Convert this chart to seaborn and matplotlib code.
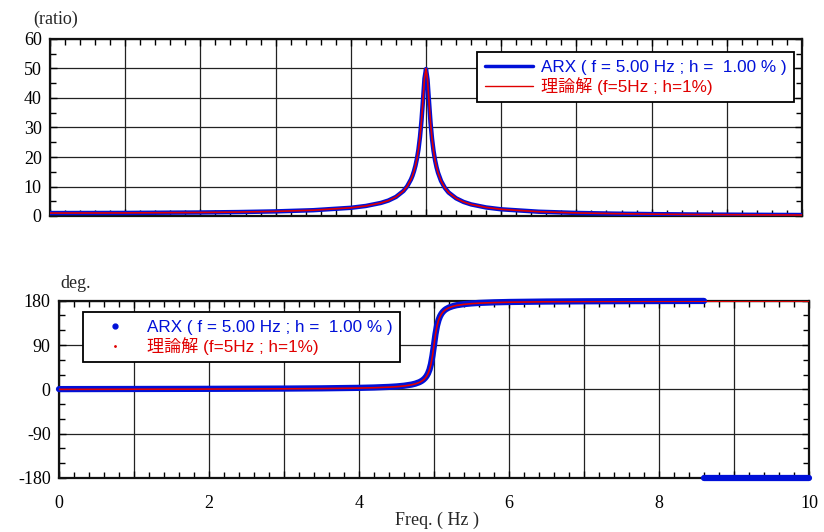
import matplotlib
matplotlib.use("Agg")
import matplotlib.pyplot as plt
from matplotlib.ticker import MultipleLocator, FuncFormatter
from matplotlib.lines import Line2D
import seaborn as sns
import pandas as pd

# ---------------- data ----------------
freq = [0.0, 1.0, 2.0, 2.5, 3.0, 3.5, 4.0, 4.2, 4.4, 4.5, 4.6, 4.7, 4.75,
        4.8, 4.82, 4.84, 4.86, 4.88, 4.9, 4.92, 4.94, 4.96, 4.98, 5.0,
        5.02, 5.04, 5.06, 5.08, 5.1, 5.12, 5.14, 5.16, 5.2, 5.25, 5.3,
        5.4, 5.5, 5.6, 5.8, 6.0, 6.5, 7.0, 7.5, 8.0, 8.6, 9.0, 10.0]

theory_amp = [1.0, 1.04, 1.19, 1.33, 1.56, 1.96, 2.78, 3.40, 4.43, 5.24, 6.46, 8.48, 10.07,
              12.39, 13.64, 15.18, 17.08, 19.50, 22.6, 26.8, 32.3, 39.3, 46.6, 50.0,
              46.3, 38.8, 31.7, 26.2, 22.1, 18.97, 16.56, 14.66, 11.88, 9.56, 7.97,
              6.0, 4.76, 3.93, 2.89, 2.27, 1.45, 1.04, 0.80, 0.64, 0.50, 0.45, 0.33]

arx_amp = [1.0, 1.04, 1.19, 1.33, 1.56, 1.96, 2.78, 3.40, 4.43, 5.24, 6.46, 8.48, 10.07,
           12.39, 13.64, 15.18, 17.08, 19.50, 22.6, 26.8, 32.3, 39.3, 46.6, 49.8,
           46.3, 38.8, 31.7, 26.2, 22.1, 18.97, 16.56, 14.66, 11.88, 9.56, 7.97,
           6.0, 4.76, 3.93, 2.89, 2.27, 1.45, 1.04, 0.80, 0.64, 0.50, 0.45, 0.33]

theory_phase = [0.0, 0.24, 0.55, 0.8, 1.07, 1.57, 2.55, 3.27, 4.46, 5.4, 6.83, 9.17, 11.03,
                13.76, 15.25, 17.09, 19.4, 22.38, 26.33, 31.8, 39.6, 51.2, 68.2, 90.0,
                111.8, 128.6, 140.0, 147.8, 153.2, 157.1, 160.1, 162.4, 165.7, 168.4, 170.3,
                172.6, 174.0, 175.0, 176.2, 176.9, 177.8, 178.3, 178.6, 178.8, 179.0, 179.1, 179.2]

arx_phase_freq = freq[:45]
arx_phase = [0.5, 0.74, 1.05, 1.3, 1.57, 2.07, 3.05, 3.77, 4.96, 5.9, 7.33, 9.67, 11.53,
             14.26, 15.75, 17.59, 19.9, 22.88, 26.83, 32.3, 40.1, 51.7, 68.7, 90.0,
             112.3, 129.1, 140.5, 148.3, 153.7, 157.6, 160.6, 162.9, 166.2, 168.9, 170.8,
             173.1, 174.5, 175.5, 176.7, 177.4, 178.3, 178.8, 179.1, 179.3, 179.5]

arx_wrap_freq = [8.6, 9.0, 9.5, 10.0]
arx_wrap_phase = [-179.6, -179.6, -179.6, -179.6]

# ---------------- style ----------------
sns.set_style("ticks")
plt.rcParams["font.family"] = ["Liberation Serif", "Noto Sans CJK JP"]
plt.rcParams["axes.unicode_minus"] = False

BLUE = "#0010d8"
RED = "#e00000"

fig = plt.figure(figsize=(8.24, 5.32), dpi=100)
ax1 = fig.add_axes([50 / 824, 1 - 216 / 532, 752 / 824, 177 / 532])
ax2 = fig.add_axes([59 / 824, 1 - 478 / 532, 750 / 824, 177.3 / 532])

df_amp = pd.DataFrame({"freq": freq, "theory": theory_amp, "arx": arx_amp})
df_ph = pd.DataFrame({"freq": freq, "theory": theory_phase})
df_arx_ph = pd.DataFrame({"freq": arx_phase_freq, "arx": arx_phase})
df_arx_wrap = pd.DataFrame({"freq": arx_wrap_freq, "arx": arx_wrap_phase})

# top panel
sns.lineplot(data=df_amp, x="freq", y="arx", ax=ax1, color=BLUE, lw=3.2,
             estimator=None, sort=False, zorder=3)
sns.lineplot(data=df_amp, x="freq", y="theory", ax=ax1, color=RED, lw=1.2,
             estimator=None, sort=False, zorder=4)

# bottom panel
sns.lineplot(data=df_arx_ph, x="freq", y="arx", ax=ax2, color=BLUE, lw=4.5,
             estimator=None, sort=False, zorder=3, clip_on=False)
sns.lineplot(data=df_arx_wrap, x="freq", y="arx", ax=ax2, color=BLUE, lw=4.5,
             estimator=None, sort=False, zorder=3, clip_on=False)
sns.lineplot(data=df_ph, x="freq", y="theory", ax=ax2, color=RED, lw=1.2,
             estimator=None, sort=False, zorder=4)

for ax in (ax1, ax2):
    ax.set_xlim(0, 10)
    ax.xaxis.set_major_locator(MultipleLocator(1))
    ax.xaxis.set_minor_locator(MultipleLocator(0.2))
    ax.grid(True, which="major", color="#222222", lw=0.9)
    ax.tick_params(which="both", direction="in", top=True, right=True,
                   labelsize=13, colors="black")
    ax.tick_params(which="major", length=5, width=1)
    ax.tick_params(which="minor", length=4, width=1)
    ax.tick_params(axis="x", pad=12)
    ax.tick_params(axis="y", pad=6)
    for s in ax.spines.values():
        s.set_linewidth(1.6)
        s.set_color("#111111")
    ax.set_xlabel("")
    ax.set_ylabel("")

ax1.set_ylim(0, 60)
ax1.yaxis.set_major_locator(MultipleLocator(10))
ax1.yaxis.set_minor_locator(MultipleLocator(5))
ax1.tick_params(axis="x", labelbottom=False)

ax2.set_ylim(-180, 180)
ax2.yaxis.set_major_locator(MultipleLocator(90))
ax2.yaxis.set_minor_locator(MultipleLocator(30))
ax2.yaxis.set_major_formatter(FuncFormatter(lambda v, p: f"{int(round(v))}"))
ax2.xaxis.set_major_formatter(FuncFormatter(lambda v, p: f"{int(round(v))}" if int(round(v)) % 2 == 0 else ""))

fig.text(33 / 824, 1 - 19 / 532, "(ratio)", fontsize=13, va="center", ha="left")
fig.text(60 / 824, 1 - 283 / 532, "deg.", fontsize=13, va="center", ha="left")
fig.text(437 / 824, 1 - 520 / 532, "Freq. ( Hz )", fontsize=13, va="center", ha="center")

lab_arx = "ARX ( f = 5.00 Hz ; h =  1.00 % )"
lab_th = "理論解 (f=5Hz ; h=1%)"
leg_font = {"family": ["Liberation Sans", "Noto Sans CJK JP"], "size": 12.3}

h1 = [Line2D([], [], color=BLUE, lw=2.5), Line2D([], [], color=RED, lw=1)]
leg1 = ax1.legend(h1, [lab_arx, lab_th], loc="upper left",
                  bbox_to_anchor=((477 - 50) / 752, (216 - 52) / 177),
                  prop=leg_font, labelcolor=[BLUE, RED], frameon=True, fancybox=False,
                  edgecolor="black", framealpha=1, handlelength=2.8, handletextpad=0.5,
                  borderpad=0.45, labelspacing=0.12, borderaxespad=0)
leg1.get_frame().set_linewidth(1.3)
leg1.set_zorder(10)

h2 = [Line2D([], [], color=BLUE, lw=0, marker="o", markersize=3.5),
      Line2D([], [], color=RED, lw=0, marker="o", markersize=1)]
leg2 = ax2.legend(h2, [lab_arx, lab_th], loc="upper left",
                  bbox_to_anchor=((83 - 59) / 750, (478 - 312) / 177.3),
                  prop=leg_font, labelcolor=[BLUE, RED], frameon=True, fancybox=False,
                  edgecolor="black", framealpha=1, handlelength=2.8, handletextpad=0.5,
                  borderpad=0.45, labelspacing=0.12, borderaxespad=0)
leg2.get_frame().set_linewidth(1.3)
leg2.set_zorder(10)

fig.savefig("out.png", dpi=100)
